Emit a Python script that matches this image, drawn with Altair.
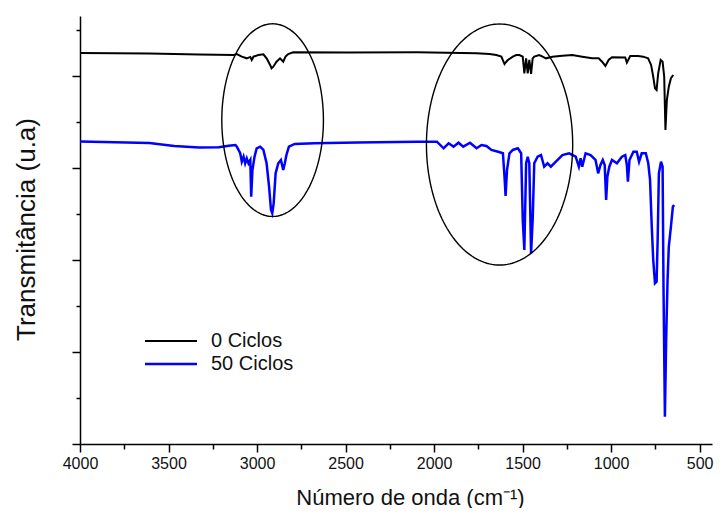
import altair as alt
import pandas as pd
import numpy as np

# ---- spectrum "0 Ciclos" (wavenumber, transmittance a.u.) ----
wn_0 = [4000, 3608, 3328, 3132, 3114, 3086, 3058, 3038, 3030, 3020, 2992, 2964, 2946, 2926,
        2918, 2908, 2890, 2870, 2852, 2839, 2824, 2796, 2488, 2096, 1760, 1687, 1648, 1620,
        1602, 1592, 1583, 1555, 1536, 1518, 1499, 1490, 1480, 1471, 1462, 1452, 1443, 1434,
        1406, 1387, 1368, 1331, 1275, 1219, 1163, 1107, 1070, 1051, 1032, 1014, 995, 920,
        911, 892, 847, 819, 791, 774, 762, 752, 743, 734, 720, 709, 700, 693, 685, 674, 662, 649]
t_0 = [4.250, 4.245, 4.234, 4.228, 4.239, 4.210, 4.192, 4.207, 4.174, 4.210, 4.228, 4.236, 4.192, 4.120,
       4.084, 4.101, 4.155, 4.192, 4.155, 4.210, 4.239, 4.258, 4.255, 4.258, 4.247, 4.239, 4.228, 4.210,
       4.130, 4.155, 4.174, 4.210, 4.228, 4.228, 4.210, 4.029, 4.192, 4.029, 4.174, 4.022, 4.192, 4.210,
       4.228, 4.210, 4.192, 4.210, 4.221, 4.228, 4.210, 4.192, 4.192, 4.155, 4.109, 4.174, 4.203, 4.201,
       4.145, 4.217, 4.217, 4.210, 4.192, 4.120, 3.992, 3.866, 3.848, 4.029, 4.174, 4.155, 3.992, 3.413,
       3.739, 3.884, 3.975, 4.011]

# ---- spectrum "50 Ciclos" ----
wn_50 = [4000, 3608, 3468, 3328, 3216, 3160, 3122, 3114, 3095, 3086, 3076, 3067, 3058, 3048,
         3038, 3033, 3026, 3014, 3002, 2982, 2964, 2946, 2932, 2921, 2914, 2906, 2895, 2880,
         2865, 2852, 2843, 2834, 2820, 2787, 2675, 2432, 2096, 1984, 1946, 1918, 1890, 1862,
         1835, 1797, 1760, 1732, 1704, 1676, 1638, 1611, 1602, 1596, 1588, 1574, 1555, 1527,
         1508, 1499, 1490, 1480, 1471, 1462, 1452, 1443, 1434, 1415, 1396, 1378, 1359, 1340,
         1312, 1275, 1237, 1200, 1182, 1172, 1163, 1144, 1116, 1088, 1073, 1060, 1047, 1036,
         1028, 1021, 1010, 995, 967, 939, 920, 911, 905, 896, 874, 855, 842, 827, 804, 790,
         780, 771, 762, 752, 743, 737, 730, 718, 709, 704, 696, 689, 681, 674, 662, 651, 644]
t_50 = [3.288, 3.272, 3.239, 3.223, 3.225, 3.242, 3.250, 3.232, 3.160, 3.068, 3.123, 3.051, 3.105, 3.051,
        3.087, 2.688, 2.978, 3.123, 3.214, 3.232, 3.196, 3.051, 2.797, 2.543, 2.508, 2.616, 2.942, 3.051,
        3.087, 2.978, 3.051, 3.141, 3.232, 3.261, 3.268, 3.277, 3.286, 3.286, 3.214, 3.268, 3.232, 3.275,
        3.232, 3.275, 3.214, 3.250, 3.239, 3.196, 3.177, 3.160, 2.905, 2.696, 2.978, 3.160, 3.196, 3.214,
        3.160, 2.435, 2.109, 3.051, 3.123, 3.051, 2.073, 2.435, 3.051, 3.123, 3.141, 3.014, 3.051, 3.014,
        3.068, 3.141, 3.160, 3.123, 3.014, 3.105, 3.014, 3.160, 3.141, 3.087, 2.942, 3.033, 3.087, 3.033,
        2.652, 2.905, 3.014, 3.087, 3.051, 3.123, 3.141, 3.033, 2.851, 3.087, 3.177, 3.177, 3.068, 3.160,
        3.160, 3.051, 2.870, 2.399, 2.000, 1.747, 1.764, 2.217, 2.942, 3.068, 3.014, 1.710, 0.297, 1.130,
        1.783, 2.145, 2.362, 2.579, 2.598]

series_names = ["0 Ciclos", "50 Ciclos"]
series_colors = ["#000000", "#0000ff"]
series_widths = [2.0, 2.5]

# ---- highlight ellipses (center / half-axes, in data units) ----
ell_cx = [2912, 1630]
ell_cy = [3.52, 3.255]
ell_rx = [287, 413]
ell_ry = [1.047, 1.31]

x_ticks = list(range(500, 4001, 250))
y_ticks = [0, 0.5, 1, 1.5, 2, 2.5, 3, 3.5, 4, 4.5]

spec = pd.concat([
    pd.DataFrame({"wn": wn_0, "t": t_0, "serie": series_names[0]}),
    pd.DataFrame({"wn": wn_50, "t": t_50, "serie": series_names[1]}),
])

rows = []
ang = np.linspace(0, 2 * np.pi, 181)
for i in range(len(ell_cx)):
    for k, a in enumerate(ang):
        rows.append({"eid": i, "k": k,
                     "wn": ell_cx[i] + ell_rx[i] * np.cos(a),
                     "t": ell_cy[i] + ell_ry[i] * np.sin(a)})
ell = pd.DataFrame(rows)

FONT = "Liberation Sans"

xscale = alt.Scale(domain=[4000, 430], nice=False, zero=False)
yscale = alt.Scale(domain=[0, 4.652], nice=False, zero=False)

xaxis = alt.Axis(values=x_ticks, format="d",
                 labelExpr="datum.value % 500 === 0 ? datum.label : ''",
                 tickSize={"condition": {"test": "datum.value % 500 === 0", "value": 8}, "value": 5},
                 labelFlush=False, labelOverlap=False, grid=False,
                 title="Número de onda (cm⁻¹)", titleX=330, titleY=53,
                 titleBaseline="middle", titleAlign="center")
yaxis = alt.Axis(values=y_ticks, labels=False,
                 tickSize={"condition": {"test": "datum.value % 1 === 0", "value": 8}, "value": 4},
                 grid=False, title="Transmitância (u.a)", titleX=-54, titleY=213,
                 titleBaseline="middle", titleAlign="center", titleAngle=270, titleFontSize=26)

lines = alt.Chart(spec).mark_line(clip=True).encode(
    x=alt.X("wn:Q", scale=xscale, axis=xaxis),
    y=alt.Y("t:Q", scale=yscale, axis=yaxis),
    strokeWidth=alt.StrokeWidth("serie:N", scale=alt.Scale(domain=series_names, range=series_widths),
                                legend=None),
    color=alt.Color("serie:N",
                    scale=alt.Scale(domain=series_names, range=series_colors),
                    legend=alt.Legend(title=None, orient="none", legendX=81, legendY=315,
                                      symbolType="M-5,0H5", symbolSize=108, symbolStrokeWidth=2,
                                      labelFontSize=20, labelFont=FONT, labelColor="#111",
                                      labelOffset=30, rowPadding=3, padding=0)),
)

ellipses = alt.Chart(ell).mark_line(strokeWidth=1.4, color="black").encode(
    x=alt.X("wn:Q", scale=xscale),
    y=alt.Y("t:Q", scale=yscale),
    detail="eid:N",
    order="k:Q",
)

chart = alt.layer(lines, ellipses).properties(
    width=632, height=428,
    autosize="none",
    padding={"left": 72, "top": 8, "right": 2, "bottom": 64},
).configure_view(stroke=None).configure_axis(
    domainColor="black", domainWidth=1.5, tickColor="black", tickWidth=1.5,
    labelFont=FONT, labelFontSize=16, labelColor="#111", labelPadding=3,
    titleFont=FONT, titleFontSize=22, titleFontWeight="normal", titleColor="#111",
)

chart.save("out.html", embed_options={"renderer": "svg", "actions": False})
